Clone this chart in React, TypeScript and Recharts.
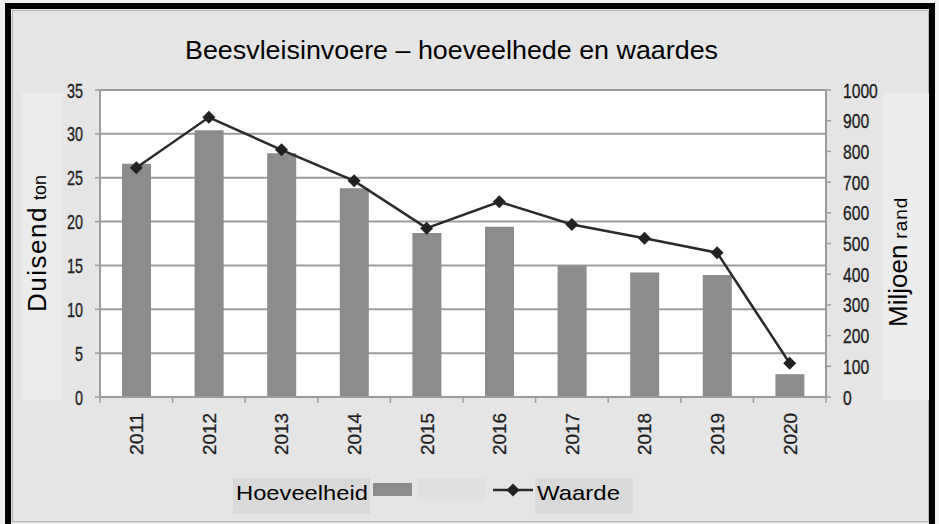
import React from 'react';
import { ComposedChart, Bar, Line, XAxis, YAxis, CartesianGrid, Legend } from 'recharts';

const years = ['2011', '2012', '2013', '2014', '2015', '2016', '2017', '2018', '2019', '2020'];
const hoeveelheid = [26.6, 30.4, 27.8, 23.8, 18.7, 19.4, 15.0, 14.2, 13.9, 2.6];
const waarde = [747, 911, 805, 704, 550, 636, 562, 517, 470, 110];
const leftTicks = [0, 5, 10, 15, 20, 25, 30, 35];
const rightTicks = [0, 100, 200, 300, 400, 500, 600, 700, 800, 900, 1000];

const TITLE = 'Beesvleisinvoere \u2013 hoeveelhede en waardes';
const SERIES_BAR = 'Hoeveelheid';
const SERIES_LINE = 'Waarde';

const data = years.map((y, i) => ({ year: y, hoeveelheid: hoeveelheid[i], waarde: waarde[i] }));

const FONT = 'Liberation Sans, Arial, Helvetica, sans-serif';
const AXIS = '#9c9c9c';
const BAR = '#8c8c8c';
const LINE = '#2a2a2a';
const TICK_TEXT = '#1e1e1e';

const LeftTick = (props: any) => {
  const { x, y, payload } = props;
  const s = String(payload.value);
  return (
    <text x={x} y={y} dy="0.36em" textAnchor="end" fontSize={21} fill={TICK_TEXT} stroke={TICK_TEXT} strokeWidth={0.35}
      fontFamily={FONT} textLength={s.length * 8} lengthAdjust="spacingAndGlyphs">{s}</text>
  );
};

const RightTick = (props: any) => {
  const { x, y, payload } = props;
  const s = String(payload.value);
  return (
    <text x={x} y={y} dy="0.36em" textAnchor="start" fontSize={21} fill={TICK_TEXT} stroke={TICK_TEXT} strokeWidth={0.35}
      fontFamily={FONT} textLength={s.length * 8.7} lengthAdjust="spacingAndGlyphs">{s}</text>
  );
};

const XTick = (props: any) => {
  const { x, y, payload, index, visibleTicksCount } = props;
  const off = payload.offset || 0;
  const last = index === (visibleTicksCount ?? years.length) - 1;
  return (
    <g>
      <line x1={x - off} x2={x - off} y1={y} y2={y + 6} stroke={AXIS} strokeWidth={1.5} />
      {last && <line x1={x + off} x2={x + off} y1={y} y2={y + 6} stroke={AXIS} strokeWidth={1.5} />}
      <text x={0} y={0} transform={`translate(${x},${y + 16}) rotate(-90)`} dy="0.36em" textAnchor="end"
        fontSize={19} fill={TICK_TEXT} stroke={TICK_TEXT} strokeWidth={0.3} fontFamily={FONT}
        textLength={42} lengthAdjust="spacingAndGlyphs">
        {payload.value}
      </text>
    </g>
  );
};

const Diamond = (p: any) => {
  const { cx, cy, index } = p;
  const r = 6.5;
  return <path key={`d${index}`} d={`M${cx},${cy - r}L${cx + r},${cy}L${cx},${cy + r}L${cx - r},${cy}Z`} fill="#222" />;
};

const LegendContent = () => (
  <svg width={939} height={50} style={{ display: 'block' }}>
    <rect x={233} y={8} width={137} height={36} fill="#d9d9d9" />
    <text x={236} y={30} fontSize={21} fontFamily={FONT} fill="#000" textLength={132} lengthAdjust="spacingAndGlyphs">{SERIES_BAR}</text>
    <rect x={373} y={13} width={39} height={13} fill={BAR} />
    <rect x={417} y={8} width={69} height={22} fill="#e0e0e0" />
    <rect x={535} y={8} width={98} height={36} fill="#d9d9d9" />
    <line x1={493} x2={533} y1={20} y2={20} stroke={LINE} strokeWidth={2.5} />
    <path d="M513,13.5L519.5,20L513,26.5L506.5,20Z" fill="#222" />
    <text x={537} y={30} fontSize={21} fontFamily={FONT} fill="#000" textLength={83} lengthAdjust="spacingAndGlyphs">{SERIES_LINE}</text>
  </svg>
);

export default function App() {
  return (
    <div style={{ position: 'absolute', left: 0, top: 0, width: 939, height: 524, background: '#f2f2f2', overflow: 'hidden' }}>
      <div style={{ position: 'absolute', left: 5, top: 3, width: 918, height: 530, borderLeft: '6px solid #000', borderRight: '6px solid #000', borderTop: '6px solid #000', background: '#e5e5e5' }} />
      <div style={{ position: 'absolute', left: 12, top: 10, width: 915, height: 510, border: '1px solid #b5b5b5', background: '#e5e5e5' }} />
      <svg width={939} height={524} style={{ position: 'absolute', left: 0, top: 0 }}>
        <text x={185} y={59} fontSize={25} fontFamily={FONT} fill="#000" textLength={533} lengthAdjust="spacingAndGlyphs">{TITLE}</text>
        <rect x={22} y={93} width={41} height={307} fill="#ececec" />
        <rect x={883} y={93} width={46} height={307} fill="#ececec" />
        <text transform="translate(46,312) rotate(-90)" fontFamily={FONT} fill="#000">
          <tspan fontSize={26} letterSpacing={1.5}>Duisend</tspan>
          <tspan fontSize={18} dx={6}>ton</tspan>
        </text>
        <text transform="translate(907,327) rotate(-90)" fontFamily={FONT} fill="#000">
          <tspan fontSize={26}>Miljoen</tspan>
          <tspan fontSize={19} dx={6} letterSpacing={1}>rand</tspan>
        </text>
      </svg>
      <div style={{ position: 'absolute', left: 0, top: 0 }}>
        <ComposedChart width={939} height={524} data={data} margin={{ top: 90, right: 0, bottom: 67, left: 0 }}>
          <CartesianGrid yAxisId="left" vertical={false} stroke={AXIS} strokeWidth={2} fill="#ffffff" />
          <XAxis dataKey="year" height={60} tickLine={false} tickSize={0} tickMargin={0} axisLine={{ stroke: AXIS, strokeWidth: 2 }}
            tick={<XTick />} interval={0} />
          <YAxis yAxisId="left" orientation="left" width={100} domain={[0, 35]} ticks={leftTicks} interval={0}
            axisLine={{ stroke: AXIS, strokeWidth: 2 }} tickLine={{ stroke: AXIS, strokeWidth: 1.5 }} tickSize={5} tickMargin={12}
            tick={<LeftTick />} />
          <YAxis yAxisId="right" orientation="right" width={113} domain={[0, 1000]} ticks={rightTicks} interval={0}
            axisLine={{ stroke: AXIS, strokeWidth: 2 }} tickLine={{ stroke: AXIS, strokeWidth: 1.5 }} tickSize={5} tickMargin={12}
            tick={<RightTick />} />
          <Bar yAxisId="left" dataKey="hoeveelheid" name={SERIES_BAR} fill={BAR} barSize={29} isAnimationActive={false} />
          <Line yAxisId="right" dataKey="waarde" name={SERIES_LINE} stroke={LINE} strokeWidth={2.5} dot={Diamond}
            activeDot={false} isAnimationActive={false} />
          <Legend layout="horizontal" verticalAlign="middle" align="center" content={<LegendContent />}
            wrapperStyle={{ left: 0, top: 470, width: 939, height: 50 }} />
        </ComposedChart>
      </div>
    </div>
  );
}
